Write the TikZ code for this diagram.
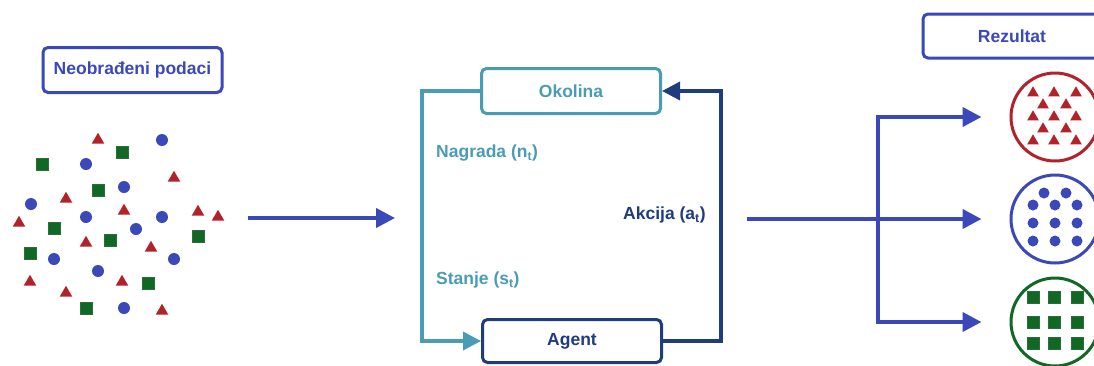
\documentclass[tikz,border=0pt]{standalone}
\usepackage{fontspec}
\setmainfont{Liberation Sans}
\usetikzlibrary{arrows.meta,shapes.geometric}
\definecolor{blueA}{RGB}{59,72,184}
\definecolor{tealA}{RGB}{74,156,182}
\definecolor{navyA}{RGB}{31,60,124}
\definecolor{redA}{RGB}{178,34,42}
\definecolor{greenA}{RGB}{16,104,36}
\tikzset{box/.style={rectangle,rounded corners=5pt,line width=3pt,fill=white,minimum height=45pt,minimum width=179pt,text centered},flow/.style={-{Triangle[length=19pt,width=19pt]},line width=4pt,blueA},loopline/.style={-{Triangle[length=18pt,width=18pt]},line width=3.5pt},tri/.style={regular polygon,regular polygon sides=3,fill=redA,inner sep=0pt,minimum size=14.5pt},dot/.style={circle,fill=blueA,inner sep=0pt,minimum size=12pt},sq/.style={rectangle,fill=greenA,draw=greenA!75!gray,line width=0.6pt,inner sep=0pt,minimum size=12pt},group/.style={circle,line width=3pt,minimum size=88pt,inner sep=0pt}}

\begin{document}
\begin{tikzpicture}[x=1pt,y=-1pt,font=\bfseries\fontsize{17.5}{20}\selectfont]
\useasboundingbox (0,0) rectangle (1094,365);

%raw data
\node (neo) at (132.5,70)[box,draw=blueA,text=blueA]{Neobrađeni podaci};
\foreach \x/\y [count=\n] in {98/140,174/178,66/199,124/211,198/212,218/217,19/223,86/243,151/248,30/282,122/282,66/293,162/311}
  \node (t\n) at (\x,\y)[tri]{};
\foreach \x/\y [count=\n] in {162/140,86/164,124/187,31/204,86/217,162/217,136/229,54/259,174/259,98/271,124/308}
  \node (c\n) at (\x,\y)[dot]{};
\foreach \x/\y [count=\n] in {122/152,42/164,98/190,54/228,110/240,198/236,30/253,148/283,86/308}
  \node (s\n) at (\x,\y)[sq]{};
\coordinate (in1) at (248,218);
\coordinate (in2) at (395,218);
\draw[flow] (in1) -- (in2);

%loop
\node (oko) at (571,91)[box,draw=tealA,text=tealA]{Okolina};
\node (agent) at (572,341)[box,minimum height=43pt,draw=navyA,text=navyA]{Agent};
\draw[loopline,tealA] (oko.west) -- ++(-58,0) |- (agent.west);
\draw[loopline,navyA] (agent.east) -- ++(58,0) |- (oko.east);
\node (nagrada) at (436,153)[anchor=west,inner sep=0pt,text=tealA]{Nagrada (n\textsubscript{t})};
\node (stanje) at (436,280)[anchor=west,inner sep=0pt,text=tealA]{Stanje (s\textsubscript{t})};
\node (akcija) at (623,215)[anchor=west,inner sep=0pt,text=navyA]{Akcija (a\textsubscript{t})};

%result
\node (rez) at (1012,36)[box,minimum height=44pt,minimum width=178pt,draw=blueA,text=blueA]{Rezultat};
\node (g1) at (1055,117)[group,draw=redA]{};
\node (g2) at (1055,219)[group,draw=blueA]{};
\node (g3) at (1055,322)[group,draw=greenA]{};
\foreach \dx/\dy [count=\n] in {-22/-24,-1/-24,21/-24,-12/-12,11/-12,-22/0,-1/0,21/0,-12/12,11/12,-22/24,-1/24,21/24}
  \node (rt\n) at ([shift={(\dx,\dy)}]g1.center)[tri,minimum size=13.5pt]{};
\foreach \dx/\dy [count=\n] in {-11/-26,11/-26,-22/-14,0/-14,22/-14,-22/4,0/4,22/4,-22/22,0/22,22/22}
  \node (rc\n) at ([shift={(\dx,\dy)}]g2.center)[dot,minimum size=11pt]{};
\foreach \dx/\dy [count=\n] in {-22/-25,-1/-25,22/-25,-22/0,-1/0,22/0,-22/21,-1/21,22/21}
  \node (rs\n) at ([shift={(\dx,\dy)}]g3.center)[sq]{};
\coordinate (out) at (747,219);
\coordinate (fork) at (878,219);
\draw[flow] (out) -- (fork) -- ([xshift=-28pt]g2.west);
\draw[flow] (fork) |- ([xshift=-28pt]g1.west);
\draw[flow] (fork) |- ([xshift=-28pt]g3.west);
\end{tikzpicture}
\end{document}
